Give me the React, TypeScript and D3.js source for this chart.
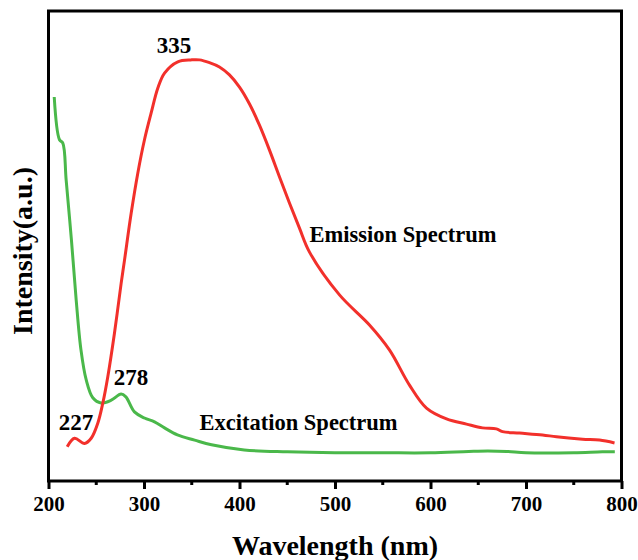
import { useEffect, useRef } from 'react'
import * as d3 from 'd3'

// Excitation spectrum (green)
const EXC_WL = [206, 211.5, 215, 218.5, 224, 229, 234, 239.5, 246.4, 255, 265.7, 276, 281, 290, 300.5, 311, 321.5, 335, 353, 370.7, 405, 450, 500, 550, 600, 640, 660, 680, 700, 750, 780, 793]
const EXC_I = [81.7, 72.6, 71.9, 64.0, 51.3, 38.5, 27.9, 21.5, 17.7, 16.6, 17.2, 18.5, 17.9, 14.7, 13.4, 12.6, 11.3, 9.8, 8.7, 7.7, 6.6, 6.2, 6.0, 6.0, 6.0, 6.3, 6.4, 6.3, 6.0, 6.0, 6.2, 6.2]

// Emission spectrum (red)
const EM_WL = [219.6, 227.2, 237.7, 244.7, 251.6, 256.9, 262.1, 269.1, 276.1, 279.6, 286.6, 293.5, 300.5, 307.5, 314.5, 321.5, 335.4, 349.4, 358.1, 368.6, 379, 389.5, 400, 410.5, 420.9, 431.4, 441.9, 452.4, 462.8, 473.3, 504.7, 536.1, 557, 578, 595.8, 616.8, 637.7, 654.5, 669, 675.4, 693.2, 717.3, 731.9, 759.2, 777, 792.7]
const EM_I = [7.3, 9.1, 8.0, 9.1, 12.3, 16.6, 22.2, 31.5, 42.1, 47.0, 57.0, 65.5, 72.6, 78.3, 83.6, 86.8, 89.2, 89.6, 89.6, 89.0, 88.1, 86.4, 83.8, 80.2, 75.7, 70.4, 64.7, 59.1, 53.8, 48.7, 39.6, 33.2, 27.9, 20.4, 15.5, 13.2, 12.1, 11.3, 11.1, 10.5, 10.2, 9.8, 9.4, 8.9, 8.7, 8.1]

const X_TICKS = [200, 300, 400, 500, 600, 700, 800]
const X_MINOR = [250, 350, 450, 550, 650, 750]

// peak labels and curve names, placed in data coordinates
const PEAK_LABELS = ['335', '278', '227']
const PEAK_WL = [331.4, 286.4, 228.8]
const PEAK_I = [91.1, 20.4, 10.9]
const NAME_LABELS = ['Emission Spectrum', 'Excitation Spectrum']
const NAME_WL = [473.3, 358.1]
const NAME_I = [50.9, 10.9]

const RED = '#f2302b'
const GREEN = '#4ab84a'
const FONT = '"Liberation Serif", "Times New Roman", serif'

export default function App() {
  const svgRef = useRef<SVGSVGElement>(null)

  useEffect(() => {
    if (!svgRef.current) return
    const W = 638
    const H = 560
    const svg = d3.select(svgRef.current).attr('viewBox', `0 0 ${W} ${H}`)
    svg.selectAll('*').remove()

    const x = d3.scaleLinear().domain([200, 800]).range([48.5, 621.5])
    const y = d3.scaleLinear().domain([0, 100]).range([481, 11])

    const line = d3.line<[number, number]>()
      .x((d) => x(d[0])).y((d) => y(d[1]))
      .curve(d3.curveCatmullRom)

    const exc = EXC_WL.map((w, i) => [w, EXC_I[i]] as [number, number])
    const em = EM_WL.map((w, i) => [w, EM_I[i]] as [number, number])

    svg.append('path').datum(exc)
      .attr('fill', 'none').attr('stroke', GREEN).attr('stroke-width', 3)
      .attr('stroke-linejoin', 'round').attr('d', line)
    svg.append('path').datum(em)
      .attr('fill', 'none').attr('stroke', RED).attr('stroke-width', 3)
      .attr('stroke-linejoin', 'round').attr('d', line)

    // frame
    svg.append('rect')
      .attr('x', x(200)).attr('y', y(100))
      .attr('width', x(800) - x(200)).attr('height', y(0) - y(100))
      .attr('fill', 'none').attr('stroke', '#000').attr('stroke-width', 3)

    // bottom axis
    const ax = svg.append('g').attr('transform', `translate(0,${y(0)})`)
      .call(d3.axisBottom(x).tickValues(X_TICKS).tickSize(8).tickSizeOuter(0).tickPadding(6))
    ax.select('.domain').remove()
    ax.selectAll('line').attr('stroke', '#000').attr('stroke-width', 3)
    ax.selectAll('text')
      .attr('fill', '#000').attr('font-family', FONT).attr('font-weight', 'bold')
      .attr('font-size', 21).attr('dy', '0.78em')
    X_MINOR.forEach((t) => {
      ax.append('line').attr('x1', x(t)).attr('x2', x(t)).attr('y1', 0).attr('y2', 4)
        .attr('stroke', '#000').attr('stroke-width', 3)
    })

    // axis titles
    svg.append('text')
      .attr('x', (x(200) + x(800)) / 2).attr('y', 555)
      .attr('text-anchor', 'middle').attr('font-family', FONT).attr('font-weight', 'bold')
      .attr('font-size', 28).attr('fill', '#000')
      .text('Wavelength (nm)')
    svg.append('text')
      .attr('transform', `translate(32,${(y(0) + y(100)) / 2 + 5}) rotate(-90)`)
      .attr('text-anchor', 'middle').attr('font-family', FONT).attr('font-weight', 'bold')
      .attr('font-size', 28).attr('fill', '#000')
      .text('Intensity(a.u.)')

    PEAK_LABELS.forEach((t, i) => {
      svg.append('text')
        .attr('x', x(PEAK_WL[i])).attr('y', y(PEAK_I[i]))
        .attr('text-anchor', 'middle').attr('font-family', FONT).attr('font-weight', 'bold')
        .attr('font-size', 23).attr('fill', '#000')
        .text(t)
    })
    NAME_LABELS.forEach((t, i) => {
      svg.append('text')
        .attr('x', x(NAME_WL[i])).attr('y', y(NAME_I[i]))
        .attr('font-family', FONT).attr('font-weight', 'bold')
        .attr('font-size', 22.5).attr('fill', '#000')
        .text(t)
    })

    return () => { svg.selectAll('*').remove() }
  }, [])

  return (
    <div style={{ position: 'absolute', left: 0, top: 0, width: 638, height: 560, background: '#fff' }}>
      <svg ref={svgRef} width={638} height={560} style={{ display: 'block' }} />
    </div>
  )
}
